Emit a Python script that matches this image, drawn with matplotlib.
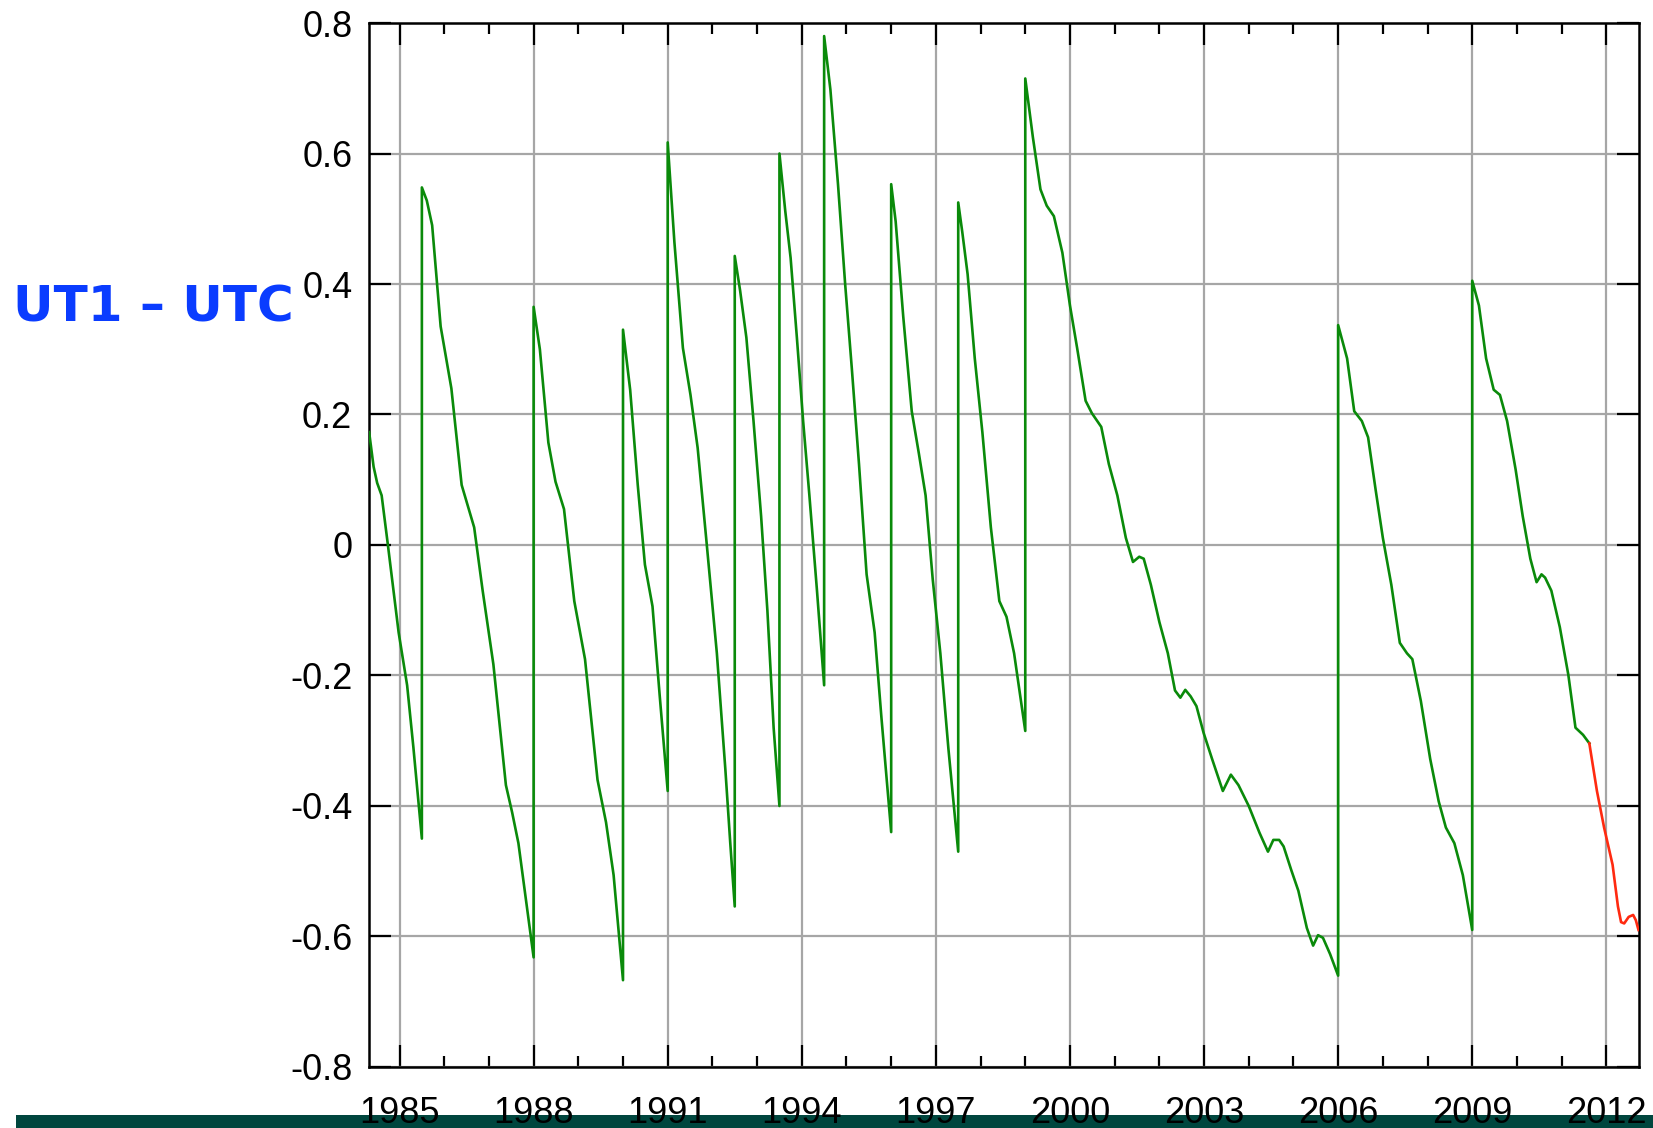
import matplotlib
matplotlib.use('Agg')
from matplotlib import pyplot as plt
from matplotlib.patches import Rectangle
from matplotlib.ticker import MultipleLocator

# UT1-UTC in seconds (leap seconds = repeated year)
green_years = [
   1984.32, 1984.42, 1984.5, 1984.6, 1984.74, 1984.98, 1985.17, 1985.31, 1985.5,
   1985.5, 1985.61, 1985.73, 1985.92, 1986.16, 1986.39, 1986.67, 1986.86, 1987.1,
   1987.38, 1987.52, 1987.66, 1988.0,
   1988.0, 1988.14, 1988.33, 1988.49, 1988.68, 1988.91, 1989.15, 1989.43, 1989.62,
   1989.79, 1990.0,
   1990.0, 1990.16, 1990.33, 1990.49, 1990.66, 1990.82, 1991.0,
   1991.0, 1991.15, 1991.34, 1991.51, 1991.67, 1991.86, 1992.1, 1992.29, 1992.4, 1992.5,
   1992.5, 1992.62, 1992.76, 1992.92, 1993.09, 1993.23, 1993.37, 1993.5,
   1993.5, 1993.63, 1993.75, 1993.89, 1994.03, 1994.17, 1994.34, 1994.5,
   1994.5, 1994.64, 1994.81, 1994.97, 1995.12, 1995.28, 1995.45, 1995.63, 1995.78, 1996.0,
   1996.0, 1996.1, 1996.27, 1996.46, 1996.62, 1996.77, 1996.93, 1997.1, 1997.28, 1997.5,
   1997.5, 1997.59, 1997.71, 1997.87, 1998.04, 1998.23, 1998.42, 1998.58, 1998.75, 1999.0,
   1999.0, 1999.17, 1999.34, 1999.48, 1999.64, 1999.83, 2000.0, 2000.16, 2000.35, 2000.49,
   2000.7, 2000.87, 2001.06, 2001.25, 2001.41, 2001.55, 2001.65, 2001.81, 2002.0, 2002.19,
   2002.35, 2002.47, 2002.58, 2002.7, 2002.83, 2002.99, 2003.18, 2003.42, 2003.6, 2003.77,
   2004.0, 2004.24, 2004.43, 2004.55, 2004.68, 2004.78, 2004.95, 2005.11, 2005.3, 2005.44,
   2005.55, 2005.66, 2005.82, 2006.0,
   2006.0, 2006.2, 2006.36, 2006.53, 2006.67, 2006.84, 2007.0, 2007.19, 2007.38, 2007.54,
   2007.66, 2007.85, 2008.06, 2008.25, 2008.41, 2008.6, 2008.79, 2009.0,
   2009.0, 2009.15, 2009.31, 2009.48, 2009.62, 2009.78, 2009.97, 2010.13, 2010.3, 2010.44,
   2010.55, 2010.63, 2010.77, 2010.96, 2011.15, 2011.31, 2011.48, 2011.62,
]
green_vals = [
   0.173, 0.12, 0.095, 0.076, 0.0, -0.134, -0.215, -0.31, -0.45,
   0.548, 0.528, 0.49, 0.335, 0.24, 0.092, 0.027, -0.07, -0.183,
   -0.368, -0.41, -0.457, -0.632,
   0.365, 0.30, 0.157, 0.097, 0.055, -0.086, -0.175, -0.36, -0.425,
   -0.506, -0.667,
   0.33, 0.238, 0.092, -0.03, -0.094, -0.23, -0.377,
   0.617, 0.464, 0.302, 0.23, 0.149, 0.011, -0.166, -0.344, -0.457, -0.554,
   0.443, 0.39, 0.318, 0.19, 0.044, -0.10, -0.28, -0.40,
   0.6, 0.512, 0.44, 0.318, 0.19, 0.076, -0.07, -0.215,
   0.78, 0.698, 0.553, 0.40, 0.27, 0.124, -0.045, -0.134, -0.263, -0.44,
   0.553, 0.496, 0.35, 0.205, 0.14, 0.076, -0.053, -0.166, -0.312, -0.47,
   0.525, 0.48, 0.415, 0.286, 0.173, 0.027, -0.086, -0.11, -0.166, -0.285,
   0.715, 0.625, 0.545, 0.52, 0.504, 0.448, 0.367, 0.302, 0.221, 0.202,
   0.181, 0.124, 0.076, 0.011, -0.026, -0.018, -0.021, -0.061, -0.118, -0.166,
   -0.223, -0.234, -0.222, -0.232, -0.247, -0.288, -0.328, -0.377, -0.352, -0.368,
   -0.40, -0.441, -0.47, -0.452, -0.452, -0.462, -0.498, -0.53, -0.587, -0.614,
   -0.598, -0.602, -0.627, -0.66,
   0.337, 0.286, 0.205, 0.19, 0.165, 0.084, 0.011, -0.061, -0.15, -0.166,
   -0.175, -0.239, -0.328, -0.393, -0.433, -0.457, -0.506, -0.59,
   0.405, 0.367, 0.286, 0.238, 0.23, 0.19, 0.116, 0.044, -0.021, -0.057,
   -0.045, -0.05, -0.07, -0.126, -0.199, -0.28, -0.291, -0.304,
]
# predicted values (red)
red_years = [2011.62, 2011.79, 2011.95, 2012.14, 2012.26, 2012.33, 2012.4, 2012.5, 2012.6, 2012.66, 2012.72]
red_vals = [-0.304, -0.377, -0.433, -0.49, -0.554, -0.578, -0.58, -0.57, -0.567, -0.575, -0.59]

year_ticks = [1985, 1988, 1991, 1994, 1997, 2000, 2003, 2006, 2009, 2012]
ut_ticks = [-0.8, -0.6, -0.4, -0.2, 0, 0.2, 0.4, 0.6, 0.8]
ut_labels = ['-0.8', '-0.6', '-0.4', '-0.2', '0', '0.2', '0.4', '0.6', '0.8']

plt.rcParams['font.family'] = ['Liberation Sans', 'DejaVu Sans']

fig = plt.figure(figsize=(16.53, 11.28), dpi=100)
ax = fig.add_axes([0.2232, 0.0541, 0.7683, 0.9255])

ax.plot(green_years, green_vals, color='#0a8a0a', lw=1.9, zorder=3)
ax.plot(red_years, red_vals, color='#ff2a10', lw=1.9, zorder=3)

ax.set_xlim(1984.316, 2012.73)
ax.set_ylim(-0.8, 0.8)
ax.set_xticks(year_ticks)
ax.set_xticklabels([str(y) for y in year_ticks])
ax.xaxis.set_minor_locator(MultipleLocator(1))
ax.set_yticks(ut_ticks)
ax.set_yticklabels(ut_labels)

ax.grid(True, which='major', color='#a6a6a6', lw=1.6, zorder=1)
ax.tick_params(which='major', direction='in', length=15.5, width=1.6,
               top=True, right=True, labelsize=26, color='black')
ax.tick_params(axis='x', which='major', pad=21)
ax.tick_params(axis='y', which='major', pad=12)
ax.tick_params(which='minor', direction='in', length=8, width=1.6, top=True)
for s in ax.spines.values():
   s.set_linewidth(1.8)

# dark band along the bottom edge
fig.patches.append(Rectangle((16 / 1653, 0), 1, 13 / 1128, transform=fig.transFigure,
                             facecolor='#00463e', edgecolor='none', zorder=-1))

fig.text(13 / 1653, 1 - 308 / 1128, 'UT1 \u2013 UTC', color='#0a3cff', fontsize=36,
         fontweight='bold', family='DejaVu Sans', ha='left', va='center')

fig.savefig('out.png', dpi=100)
